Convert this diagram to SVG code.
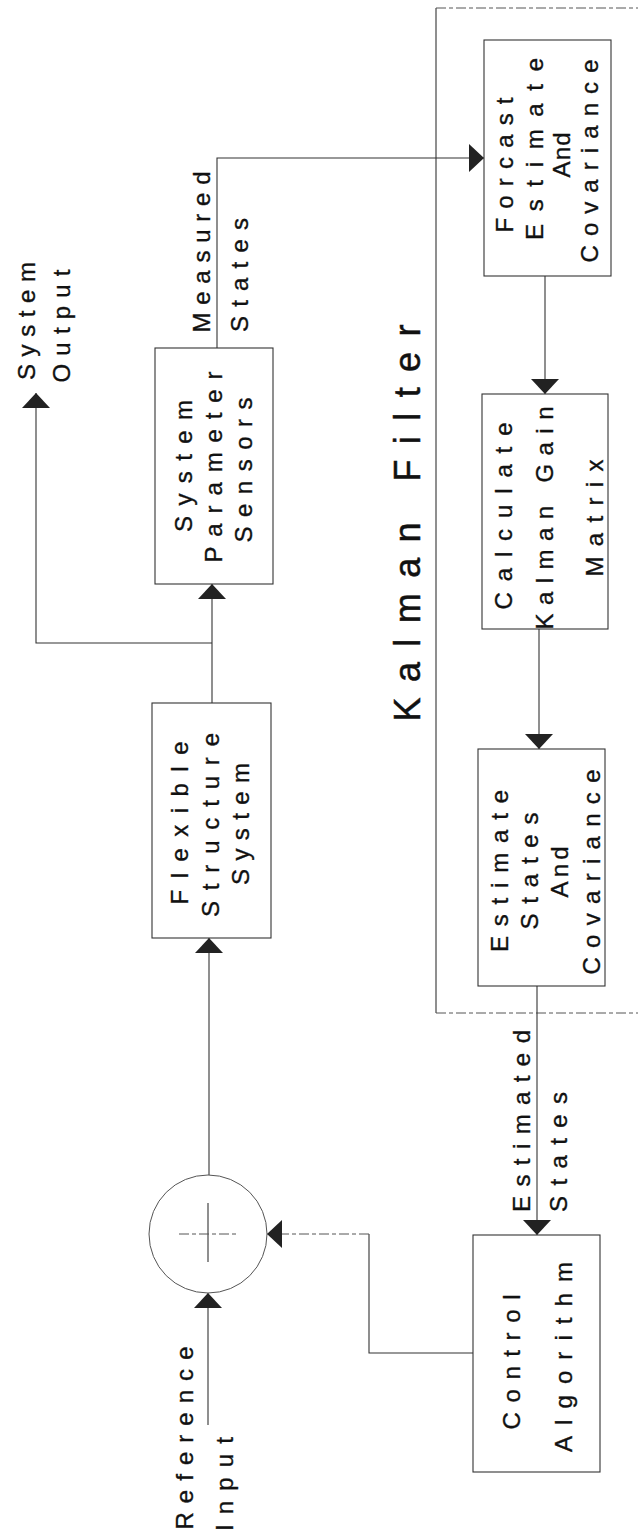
<svg xmlns="http://www.w3.org/2000/svg" width="638" height="1531" viewBox="0 0 638 1531">
<style>
.box{fill:#fff;stroke:#333;stroke-width:1.1}
.ln{fill:none;stroke:#333;stroke-width:1.1}
.faint{fill:none;stroke:#555;stroke-width:1;stroke-dasharray:10 3 4 3}
.t{font-family:"Liberation Sans",Arial,sans-serif;font-size:24px;fill:#111;stroke:#111;stroke-width:0.35;text-anchor:middle}
.big{font-size:36px;stroke-width:0.5}
</style>
<defs>
<marker id="ah" viewBox="0 0 15 28" refX="15" refY="14" markerWidth="15" markerHeight="28" markerUnits="userSpaceOnUse" orient="auto">
<path d="M0,0 L15,14 L0,28 Z" fill="#222"/>
</marker>
</defs>
<rect width="638" height="1531" fill="#fff"/>

<g id="kalman-filter">
<path class="ln" d="M436,8 V1013"/>
<path class="faint" d="M436,8 H638"/>
<path class="faint" d="M436,1013 H638"/>
<text class="t big" transform="translate(420,523) rotate(-90)" textLength="397" lengthAdjust="spacing">Kalman Filter</text>
</g>

<g id="connectors">
<path class="ln" d="M208,1425 V1293" marker-end="url(#ah)"/>
<path class="ln" d="M209,1175 V938" marker-end="url(#ah)"/>
<path class="ln" d="M212,703 V584" marker-end="url(#ah)"/>
<path class="ln" d="M212,643 H36 V393" marker-end="url(#ah)"/>
<path class="ln" d="M217,348 V158 H484" marker-end="url(#ah)"/>
<path class="ln" d="M545,276 V394" marker-end="url(#ah)"/>
<path class="ln" d="M539,629 V749" marker-end="url(#ah)"/>
<path class="ln" d="M537,986 V1235" marker-end="url(#ah)"/>
<path class="ln" d="M473,1353 H369 V1234"/>
<path class="faint" d="M369,1234 H267" marker-end="url(#ah)"/>
</g>

<g id="labels">
<text class="t" transform="translate(193,1438) rotate(-90)" textLength="183" lengthAdjust="spacing">Reference</text>
<text class="t" transform="translate(233,1484) rotate(-90)" textLength="94" lengthAdjust="spacing">Input</text>
<text class="t" transform="translate(35,321) rotate(-90)" textLength="118" lengthAdjust="spacing">System</text>
<text class="t" transform="translate(70,326) rotate(-90)" textLength="113" lengthAdjust="spacing">Output</text>
<text class="t" transform="translate(210,252) rotate(-90)" textLength="161" lengthAdjust="spacing">Measured</text>
<text class="t" transform="translate(248,275) rotate(-90)" textLength="114" lengthAdjust="spacing">States</text>
<text class="t" transform="translate(530,1121) rotate(-90)" textLength="182" lengthAdjust="spacing">Estimated</text>
<text class="t" transform="translate(567,1152) rotate(-90)" textLength="120" lengthAdjust="spacing">States</text>
</g>

<g id="summing-junction">
<circle cx="208" cy="1234" r="59" fill="none" stroke="#555" stroke-width="1"/>
<path class="ln" d="M208,1203 V1262"/>
<path class="faint" d="M179,1234 H237"/>
</g>

<g id="flexible-structure-system">
<rect class="box" x="152" y="703" width="119" height="235"/>
<text class="t" transform="translate(188,823) rotate(-90)" textLength="163" lengthAdjust="spacing">Flexible</text>
<text class="t" transform="translate(219,825) rotate(-90)" textLength="184" lengthAdjust="spacing">Structure</text>
<text class="t" transform="translate(249,824) rotate(-90)" textLength="122" lengthAdjust="spacing">System</text>
</g>

<g id="system-parameter-sensors">
<rect class="box" x="155" y="348" width="118" height="236"/>
<text class="t" transform="translate(192,466) rotate(-90)" textLength="132" lengthAdjust="spacing">System</text>
<text class="t" transform="translate(222,467) rotate(-90)" textLength="191" lengthAdjust="spacing">Parameter</text>
<text class="t" transform="translate(252,470) rotate(-90)" textLength="145" lengthAdjust="spacing">Sensors</text>
</g>

<g id="forcast-estimate">
<rect class="box" x="484" y="40" width="127" height="236"/>
<text class="t" transform="translate(513,165) rotate(-90)" textLength="135" lengthAdjust="spacing">Forcast</text>
<text class="t" transform="translate(543,149) rotate(-90)" textLength="182" lengthAdjust="spacing">Estimate</text>
<text class="t" transform="translate(570,155) rotate(-90)" textLength="45" lengthAdjust="spacing">And</text>
<text class="t" transform="translate(598,161) rotate(-90)" textLength="203" lengthAdjust="spacing">Covariance</text>
</g>

<g id="calculate-kalman-gain">
<rect class="box" x="482" y="394" width="126" height="235"/>
<text class="t" transform="translate(512,516) rotate(-90)" textLength="187" lengthAdjust="spacing">Calculate</text>
<text class="t" transform="translate(553,518) rotate(-90)" textLength="223" lengthAdjust="spacing">Kalman Gain</text>
<text class="t" transform="translate(603,518) rotate(-90)" textLength="117" lengthAdjust="spacing">Matrix</text>
</g>

<g id="estimate-states">
<rect class="box" x="478" y="749" width="127" height="237"/>
<text class="t" transform="translate(508,871) rotate(-90)" textLength="162" lengthAdjust="spacing">Estimate</text>
<text class="t" transform="translate(538,871) rotate(-90)" textLength="117" lengthAdjust="spacing">States</text>
<text class="t" transform="translate(568,872) rotate(-90)" textLength="51" lengthAdjust="spacing">And</text>
<text class="t" transform="translate(600,872) rotate(-90)" textLength="205" lengthAdjust="spacing">Covariance</text>
</g>

<g id="control-algorithm">
<rect class="box" x="473" y="1235" width="127" height="237"/>
<text class="t" transform="translate(520,1362) rotate(-90)" textLength="135" lengthAdjust="spacing">Control</text>
<text class="t" transform="translate(572,1357) rotate(-90)" textLength="190" lengthAdjust="spacing">Algorithm</text>
</g>
</svg>
